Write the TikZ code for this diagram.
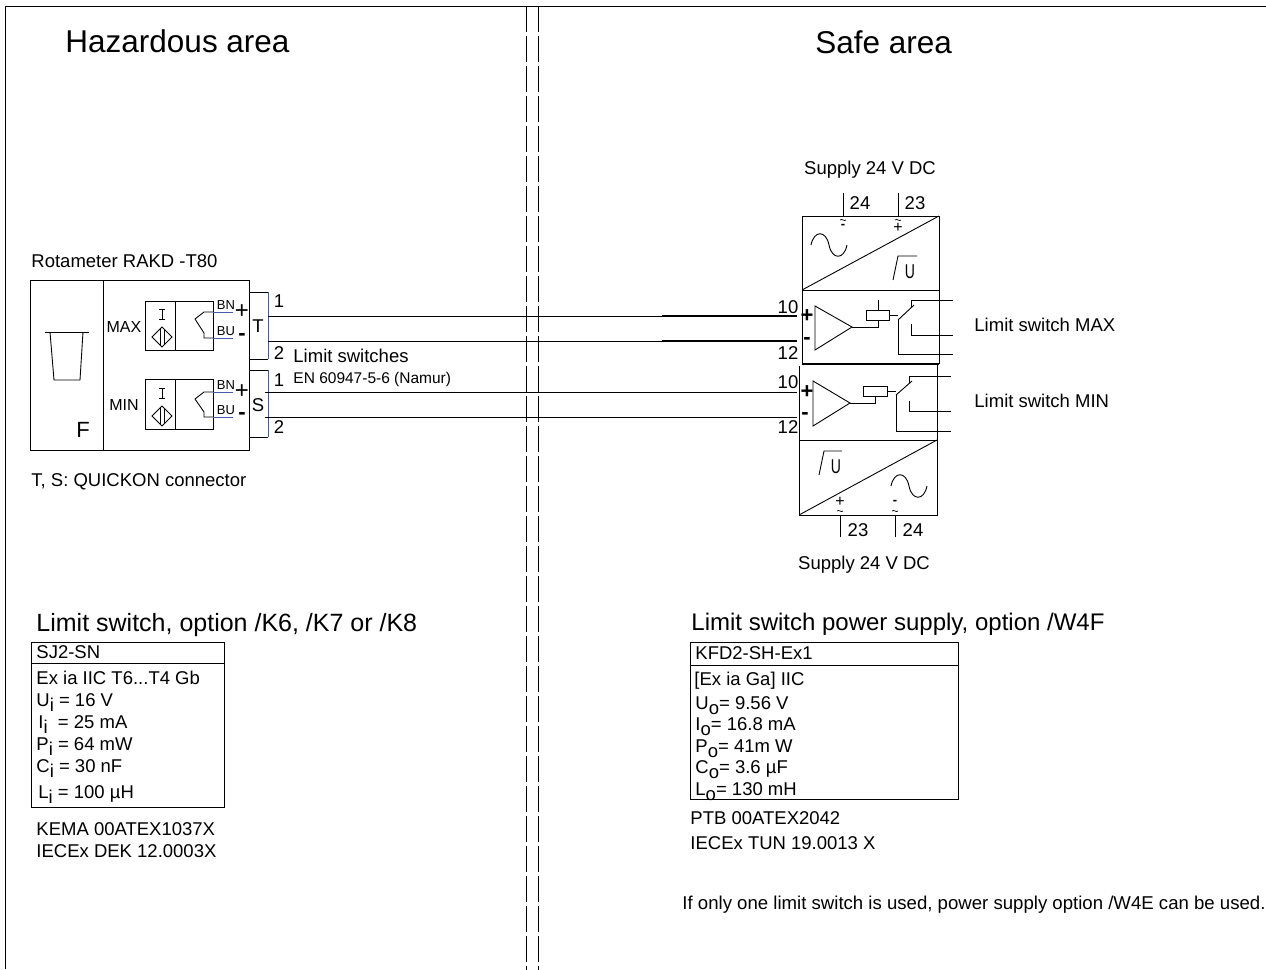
\documentclass[tikz,border=0pt]{standalone}
\usepackage{fontspec}
\setmainfont{Liberation Sans}
\usepackage{tikz}
\usetikzlibrary{calc,positioning}
\definecolor{wireblue}{RGB}{70,90,170}
\begin{document}
\begin{tikzpicture}[x=1pt,y=-1pt,line width=0.9pt,
lbl/.style={inner sep=0pt, anchor=west, font=\fontsize{18.5}{20}\selectfont},
lblb/.style={inner sep=0pt, anchor=base west, font=\fontsize{18.5}{20}\selectfont},
lblc/.style={inner sep=0pt, font=\fontsize{18.5}{20}\selectfont},
small/.style={inner sep=0pt, font=\fontsize{16}{18}\selectfont},
heading/.style={inner sep=0pt, anchor=west, yshift=-2pt, font=\fontsize{25}{27}\selectfont},
title/.style={inner sep=0pt, anchor=west, font=\fontsize{31.5}{34}\selectfont},
sub/.style={inner sep=0pt, font=\fontsize{13}{14}\selectfont},
thinsign/.style={inner sep=0pt, font=\fontsize{16}{16}\selectfont},
minsign/.style={inner sep=0pt, font=\bfseries\fontsize{13}{13}\selectfont},
boldsign/.style={inner sep=0pt, font=\bfseries\fontsize{22}{22}\selectfont}]
\useasboundingbox (0,0) rectangle (1266,969);
\tikzstyle{bar}=[dash pattern=on 26.5pt off 3.5pt, line width=0.8pt]
% frame and area split
\draw (5,969) -- (5,6) -- (1266,6);
\coordinate (splita) at (526,6); \coordinate (splitb) at (538,6);
\foreach \nm in {splita,splitb}{
\draw[line width=0.8pt] (\nm) -- ++(0,26);
\draw[bar] (\nm) ++(0,29.5) -- ++(0,940);
}
\node[title] (haz) at (65,41) {Hazardous area};
\node[title] (safe) at (815,42) {Safe area};
% rotameter
\node[lbl] (rot) at (31,261) {Rotameter RAKD -T80};
\node[draw, minimum width=219pt, minimum height=170pt, inner sep=0pt, anchor=north west] (body) at (30,280) {};
\node[draw, minimum width=73pt, minimum height=170pt, inner sep=0pt, anchor=north west] (tube) at (30,280) {};
\draw (45,332) -- (89,332);
\draw (50,332) -- (54,380) -- (80,380) -- (83,332);
\node[inner sep=0pt, font=\fontsize{22}{22}\selectfont] (f) at (83,430) {F};
\node[small] (max) at (124,327) {MAX};
\node[small] (min) at (124,405) {MIN};
% the two sensors
\foreach \nm/\ya/\yb/\yc/\yd/\ye in {a/301/350/312/338/309,b/379/429/392/417/388}{
\node[draw, minimum width=68pt, minimum height=\yb pt-\ya pt, inner sep=0pt, anchor=north west] (sens\nm) at (145,\ya) {};
\draw (175,\ya) -- (175,\yb);
\draw (159,\ye) -- (165,\ye) (162,\ye) -- ++(0,10) (159,\ye+10) -- (165,\ye+10);
\draw (152,\ye+28) -- (162,\ye+18) -- (172,\ye+28) -- (162,\ye+38) -- cycle;
\draw (160,\ye+20) -- (160,\ye+36) (164,\ye+20) -- (164,\ye+36);
\draw (213,\yc) -- (204,\yc) -- (195,\yc+7) (195,\yc+7) -- (204,\yd-5) -- (204,\yd) -- (213,\yd);
\draw[wireblue] (213,\yc) -- (233,\yc) (213,\yd) -- (233,\yd);
\node[sub] (bn\nm) at (226,\yc-7) {BN};
\node[sub] (bu\nm) at (226,\yd-7) {BU};
\node[boldsign, font=\fontsize{24}{24}\selectfont] (plus\nm) at (242,\yc) {+};
\node[boldsign] (minus\nm) at (242,\yd-1) {-};
}
% connectors
\draw (249,292) -- (268,292); \draw (249,359) -- (268,359);
\draw (249,370) -- (268,370); \draw (249,437) -- (268,437);
\draw[wireblue] (268,292) -- (268,359) (268,370) -- (268,437);
\node[lblc] (t) at (258,326) {T};
\node[lblc] (s) at (258,405) {S};
\node[lblc] (ta) at (279,301) {1};
\node[lblc] (tb) at (279,353) {2};
\node[lblc] (sa) at (279,380) {1};
\node[lblc] (sb) at (279,427) {2};
\node[lbl] (lsw) at (293,356) {Limit switches};
\node[lbl, font=\fontsize{15.5}{17}\selectfont] (en) at (293,379) {EN 60947-5-6 (Namur)};
\node[lbl] (quick) at (31,482) {T, S: QUICKON connector};
% wires
\draw (268,316) -- (797,316);
\draw (268,341) -- (797,341);
\draw (265,392) -- (797,392);
\draw (265,417) -- (797,417);
\draw[line width=1.2pt] (662,316) -- (797,316) (662,341) -- (797,341);
% supply units
\node[lblc] (supa) at (870,170) {Supply 24 V DC};
\node[lblc] (supb) at (864,565) {Supply 24 V DC};
\draw (802,216) rectangle (939,290);
\draw (802,290) -- (939,216);
\draw (843,193) -- (843,216) (898,193) -- (898,216);
\node[lblc] (n24a) at (860,203) {24};
\node[lblc] (n23a) at (915,203) {23};
\foreach \xx/\yy in {843/220,898/220,840/511,895/511}{
\draw[line width=0.7pt] (\xx-3,\yy) .. controls (\xx-1,\yy-2) and (\xx+1,\yy+2) .. (\xx+3,\yy);
}
\node[minsign] (mna) at (843,226) {-};
\node[thinsign] (plsa) at (898,228) {+};
\draw (811,245) .. controls (814,230) and (826,230) .. (829,245) .. controls (832,260) and (844,260) .. (847,245);
\draw (893,280) -- (898,256) -- (917,256);
\node[inner sep=0pt, xscale=.7, font=\fontsize{20}{20}\selectfont] (ua) at (910,272) {U};
\draw (799,515) rectangle (937,440);
\draw (799,515) -- (937,440);
\draw (840,515) -- (840,537) (895,515) -- (895,537);
\node[lblc] (n23b) at (858,530) {23};
\node[lblc] (n24b) at (913,530) {24};
\node[thinsign] (plsb) at (840,502) {+};
\node[minsign] (mnb) at (895,502) {-};
\draw (891,486) .. controls (894,471) and (906,471) .. (909,486) .. controls (912,501) and (924,501) .. (927,486);
\draw (819,475) -- (824,451) -- (842,451);
\node[inner sep=0pt, xscale=.7, font=\fontsize{20}{20}\selectfont] (ub) at (836,467) {U};
% amplifier parts
\draw (802,290) -- (802,364) (939,290) -- (939,364);
\draw[line width=1.1pt] (802,364) -- (939,364);
\draw (799,366) -- (799,440) (937,364) -- (937,440);
\draw (815,306) -- (815,350) -- (852,327) -- cycle;
\draw (866,310) rectangle (889,320);
\draw (878,300) -- (878,310);
\draw (852,327) -- (878,327) -- (878,320);
\draw (889,315) -- (898,315);
\draw (898,320) -- (914,305);
\draw (911,308) -- (911,300) -- (953,300);
\draw (911,324) -- (911,335) -- (953,335);
\draw (898,320) -- (898,354) -- (953,354);
\draw (813,381) -- (813,426) -- (850,403) -- cycle;
\draw (863,386) rectangle (887,396);
\draw (850,403) -- (875,403) -- (875,396);
\draw (887,391) -- (896,391);
\draw (896,395) -- (912,381);
\draw (909,383) -- (909,376) -- (951,376);
\draw (909,401) -- (909,411) -- (951,411);
\draw (896,395) -- (896,431) -- (951,431);
\node[lblc] (ten) at (788,307) {10};
\node[lblc] (twelve) at (788,353) {12};
\node[lblc] (tenb) at (788,382) {10};
\node[lblc] (twelveb) at (788,427) {12};
\node[boldsign] (ampa) at (807,316) {+};
\node[boldsign] (ampb) at (807,341) {-};
\node[boldsign] (ampc) at (807,392) {+};
\node[boldsign] (ampd) at (805,416) {-};
\node[lbl] (swmax) at (974,325) {Limit switch MAX};
\node[lbl] (swmin) at (974,401) {Limit switch MIN};
% data plates
\node[heading] (hleft) at (36,623) {Limit switch, option /K6, /K7 or /K8};
\node[heading, font=\fontsize{24}{27}\selectfont] (hright) at (691,622) {Limit switch power supply, option /W4F};
\draw (31,663) -- (31,642) -- (224,642) -- (224,807) -- (31,807) -- (31,663) -- (224,663);
\draw (690,665) -- (690,642) -- (958,642) -- (958,799) -- (690,799) -- (690,665) -- (958,665);
\node[lbl] (sj) at (36,652) {SJ2-SN};
\node[lbl] (exl) at (36,678) {Ex ia IIC T6...T4 Gb};
\foreach \nm/\yy/\xx/\rest in {U/706/36/= 16 V,I/728/38/ = 25 mA,P/750/36/= 64 mW,C/772/36/= 30 nF,L/798/38/= 100 µH}{
\node[lblb] (lft\nm) at (\xx,\yy) {\nm\raisebox{-5pt}{i} \rest};
}
\node[lbl] (kema) at (36,829) {KEMA 00ATEX1037X};
\node[lbl] (decl) at (36,851) {IECEx DEK 12.0003X};
\node[lbl] (kfd) at (695,653) {KFD2-SH-Ex1};
\node[lbl] (exr) at (694,681) {[Ex ia Ga] IIC};
\foreach \nm/\yy/\rest in {U/709/= 9.56 V,I/730/= 16.8 mA,P/752/= 41m W,C/773/= 3.6 µF,L/795/= 130 mH}{
\node[lblb] (rgt\nm) at (695,\yy) {\nm\raisebox{-5pt}{o}\rest};
}
\node[lbl] (ptb) at (690,818) {PTB 00ATEX2042};
\node[lbl] (tun) at (690,843) {IECEx TUN 19.0013 X};
\node[lbl, font=\fontsize{18.6}{20}\selectfont] (note) at (682,905) {If only one limit switch is used, power supply option /W4E can be used.};
\end{tikzpicture}
\end{document}
